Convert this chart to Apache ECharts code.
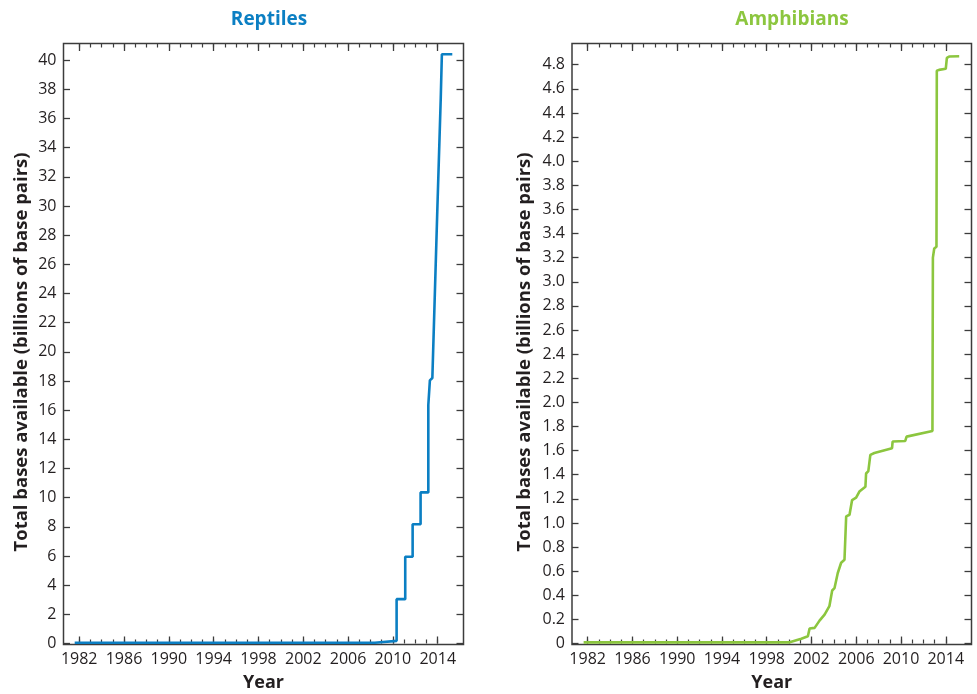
<!DOCTYPE html>
<html>
<head>
<meta charset="utf-8">
<script src="https://cdn.jsdelivr.net/npm/echarts@6/dist/echarts.min.js"></script>
<style>html,body{margin:0;padding:0;background:#fff}#c{width:977px;height:694px}</style>
</head>
<body>
<div id="c"></div>
<script>
// Reptiles (billions of base pairs)
const reptileYears  = [1981.6, 2008.39, 2008.39, 2010.33, 2010.33, 2011.1, 2011.1, 2011.76, 2011.76, 2012.47, 2012.47, 2013.16, 2013.16, 2013.3, 2013.52, 2013.97, 2014.05, 2014.27, 2014.35, 2014.37, 2015.3];
const reptileValues = [0.05, 0.05, 0.18, 0.18, 3.04, 3.04, 5.95, 5.95, 8.18, 8.18, 10.36, 10.36, 16.35, 18.04, 18.2, 29.9, 30.0, 37.4, 37.5, 40.4, 40.4];
// Amphibians (billions of base pairs)
const amphibianYears  = [1981.64, 2000.05, 2001.09, 2001.68, 2001.83, 2002.28, 2002.72, 2003.17, 2003.6, 2003.85, 2004.06, 2004.35, 2004.65, 2004.95, 2005.04, 2005.1, 2005.4, 2005.63, 2005.99, 2006.28, 2006.82, 2006.88, 2007.08, 2007.26, 2007.62, 2009.2, 2009.25, 2010.38, 2010.5, 2012.81, 2012.85, 2012.97, 2013.17, 2013.2, 2013.4, 2014.0, 2014.1, 2014.3, 2015.2];
const amphibianValues = [0.01, 0.01, 0.04, 0.06, 0.124, 0.13, 0.19, 0.24, 0.31, 0.44, 0.46, 0.585, 0.67, 0.695, 0.71, 1.054, 1.068, 1.19, 1.21, 1.26, 1.30, 1.41, 1.43, 1.565, 1.58, 1.62, 1.675, 1.68, 1.716, 1.763, 3.2, 3.276, 3.29, 4.75, 4.757, 4.766, 4.857, 4.868, 4.87];
// Tick labels
const majorYears = [1982, 1986, 1990, 1994, 1998, 2002, 2006, 2010, 2014];
const minorYears = [1982,1983,1984,1985,1986,1987,1988,1989,1990,1991,1992,1993,1994,1995,1996,1997,1998,1999,2000,2001,2002,2003,2004,2005,2006,2007,2008,2009,2010,2011,2012,2013,2014];
const reptileTicks = [0,2,4,6,8,10,12,14,16,18,20,22,24,26,28,30,32,34,36,38,40];
const amphibianTicks = [0,0.2,0.4,0.6,0.8,1.0,1.2,1.4,1.6,1.8,2.0,2.2,2.4,2.6,2.8,3.0,3.2,3.4,3.6,3.8,4.0,4.2,4.4,4.6,4.8];

const FONT = '"Open Sans", "Noto Sans", sans-serif';
const AX = '#3c3c3c';
const TXT = '#231f20';
const BLUE = '#0b7fc3';
const GREEN = '#8cc63f';
const XMIN = 1980.6, XMAX = 2016.3;

function xAxes(grid) {
  const base = {type:'value', gridIndex:grid, min:XMIN, max:XMAX, axisLine:{show:false}, splitLine:{show:false}};
  return [
    Object.assign({}, base, {position:'bottom', name:'Year', nameLocation:'middle', nameGap:29,
      nameTextStyle:{fontFamily:FONT, fontSize:18, fontWeight:'bold', color:TXT},
      axisTick:{show:true, inside:true, length:7, customValues:majorYears, lineStyle:{color:AX, width:1.3}},
      axisLabel:{show:true, customValues:majorYears, margin:7, fontFamily:FONT, fontSize:16, color:TXT, formatter:v=>String(v)}}),
    Object.assign({}, base, {position:'bottom',
      axisTick:{show:true, inside:true, length:4, customValues:minorYears, lineStyle:{color:AX, width:1.2}},
      axisLabel:{show:false}}),
    Object.assign({}, base, {position:'top',
      axisTick:{show:true, inside:true, length:7.5, customValues:majorYears, lineStyle:{color:AX, width:1.3}},
      axisLabel:{show:false}}),
    Object.assign({}, base, {position:'top',
      axisTick:{show:true, inside:true, length:4, customValues:minorYears, lineStyle:{color:AX, width:1.2}},
      axisLabel:{show:false}})
  ];
}
function yAxes(grid, min, max, ticks, fmt, gap) {
  const base = {type:'value', gridIndex:grid, min:min, max:max, axisLine:{show:false}, splitLine:{show:false}};
  return [
    Object.assign({}, base, {position:'left', name:'Total bases available (billions of base pairs)', nameLocation:'middle', nameGap:gap, nameRotate:90,
      nameTextStyle:{fontFamily:FONT, fontSize:18.5, fontWeight:'bold', color:TXT, padding:[0,16,0,0]},
      axisTick:{show:true, inside:true, length:6.5, customValues:ticks, lineStyle:{color:AX, width:1.3}},
      axisLabel:{show:true, customValues:ticks, margin:7, fontFamily:FONT, fontSize:16, color:TXT, formatter:fmt}}),
    Object.assign({}, base, {position:'right',
      axisTick:{show:true, inside:true, length:7, customValues:ticks, lineStyle:{color:AX, width:1.3}},
      axisLabel:{show:false}})
  ];
}

const chart = echarts.init(document.getElementById('c'), null, {renderer:'canvas'});
chart.setOption({
  animation:false,
  backgroundColor:'#fff',
  title:[
    {text:'Reptiles', left:264, top:5, textAlign:'center', textStyle:{fontFamily:FONT, fontSize:19, fontWeight:'bold', color:BLUE}},
    {text:'Amphibians', left:787, top:5, textAlign:'center', textStyle:{fontFamily:FONT, fontSize:19, fontWeight:'bold', color:GREEN}}
  ],
  grid:[
    {left:63.5, right:513.5, top:43.5, bottom:49.5, show:true, borderColor:AX, borderWidth:1.5, backgroundColor:'transparent', containLabel:false, outerBoundsMode:'none'},
    {left:572, right:5.5, top:43.5, bottom:49.5, show:true, borderColor:AX, borderWidth:1.5, backgroundColor:'transparent', containLabel:false, outerBoundsMode:'none'}
  ],
  xAxis: xAxes(0).concat(xAxes(1)),
  yAxis: yAxes(0, -0.07, 41.14, reptileTicks, v=>String(v), 32)
    .concat(yAxes(1, -0.008, 4.976, amphibianTicks, v=> v===0 ? '0' : v.toFixed(1), 38)),
  series:[
    {type:'line', xAxisIndex:0, yAxisIndex:0, showSymbol:false, silent:true,
     data: reptileYears.map((x,i)=>[x, reptileValues[i]]),
     lineStyle:{color:BLUE, width:2.6}},
    {type:'line', xAxisIndex:4, yAxisIndex:2, showSymbol:false, silent:true,
     data: amphibianYears.map((x,i)=>[x, amphibianValues[i]]),
     lineStyle:{color:GREEN, width:2.6}}
  ]
});
</script>
</body>
</html>
